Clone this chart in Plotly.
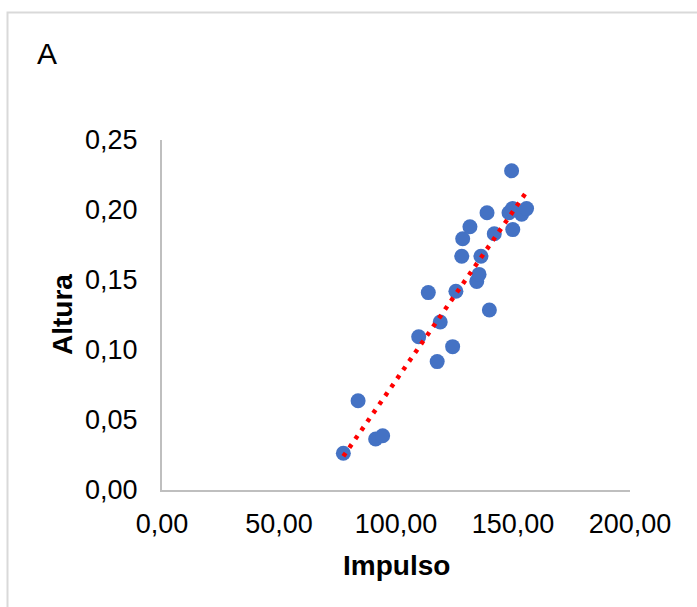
import numpy as np
import plotly.graph_objects as go

impulso = [77.5, 83.8, 91.3, 94.3, 109.7, 113.8, 117.6, 118.9, 124.2, 125.6,
           128.1, 128.5, 131.6, 134.5, 135.5, 136.3, 138.9, 139.9, 142.0, 148.3,
           149.4, 149.8, 149.9, 153.7, 155.8]
altura = [0.0262, 0.0638, 0.0364, 0.0388, 0.1095, 0.141, 0.0917, 0.120, 0.1024, 0.142,
          0.167, 0.1795, 0.188, 0.149, 0.154, 0.167, 0.198, 0.1286, 0.183, 0.198,
          0.228, 0.201, 0.186, 0.197, 0.201]

x_ticks = [0, 50, 100, 150, 200]
y_ticks = [0, 0.05, 0.10, 0.15, 0.20, 0.25]

# linear trendline (least squares), drawn between min and max x
slope, intercept = np.polyfit(impulso, altura, 1)
trend_x = np.array([min(impulso), max(impulso)])
trend_y = slope * trend_x + intercept

FONT = "Liberation Sans, Arial, sans-serif"

fig = go.Figure()
fig.add_trace(go.Scatter(
    x=impulso, y=altura, mode="markers",
    marker=dict(size=15, color="#4472C4", line=dict(width=0)),
    showlegend=False, cliponaxis=False,
))
fig.add_trace(go.Scatter(
    x=trend_x, y=trend_y, mode="lines",
    line=dict(color="#FF0000", width=4.5, dash="4px,6.5px"),
    showlegend=False, cliponaxis=False,
))

W, H = 697, 607
L, R, T, B = 162, 67, 140, 117
pw, ph = W - L - R, H - T - B

def px(xp):
    return (xp - L) / pw

def py(yp):
    return (H - B - yp) / ph

fig.update_layout(
    width=W, height=H,
    margin=dict(l=L, r=R, t=T, b=B),
    paper_bgcolor="white", plot_bgcolor="white",
    separators=",.",
    font=dict(family=FONT, size=27, color="#000000"),
    xaxis=dict(range=[0, 200], tickvals=x_ticks, tickformat=".2f",
               showgrid=False, zeroline=False, showline=True,
               linecolor="#BFBFBF", linewidth=2, ticks="",
               ticklabelstandoff=9,
               tickfont=dict(family=FONT, size=27, color="#000000")),
    yaxis=dict(range=[0, 0.25], tickvals=y_ticks, tickformat=".2f",
               showgrid=False, zeroline=False, showline=True,
               linecolor="#BFBFBF", linewidth=2, ticks="",
               ticklabelstandoff=17,
               tickfont=dict(family=FONT, size=27, color="#000000")),
    shapes=[dict(type="rect", xref="paper", yref="paper",
                 x0=px(7.5), x1=px(720), y0=py(12.5), y1=py(640),
                 line=dict(color="#D9D9D9", width=2), fillcolor="rgba(0,0,0,0)",
                 layer="below")],
    annotations=[
        dict(text="A", xref="paper", yref="paper", x=px(47), y=py(54),
             xanchor="center", yanchor="middle", showarrow=False,
             font=dict(family=FONT, size=30, color="#000000")),
        dict(text="<b>Impulso</b>", xref="paper", yref="paper", x=0.5, y=py(565),
             xanchor="center", yanchor="middle", showarrow=False,
             font=dict(family=FONT, size=28, color="#000000")),
        dict(text="<b>Altura</b>", xref="paper", yref="paper", x=px(62), y=0.5,
             xanchor="center", yanchor="middle", showarrow=False, textangle=-90,
             font=dict(family=FONT, size=28, color="#000000")),
    ],
)

fig.write_html("out.html")
